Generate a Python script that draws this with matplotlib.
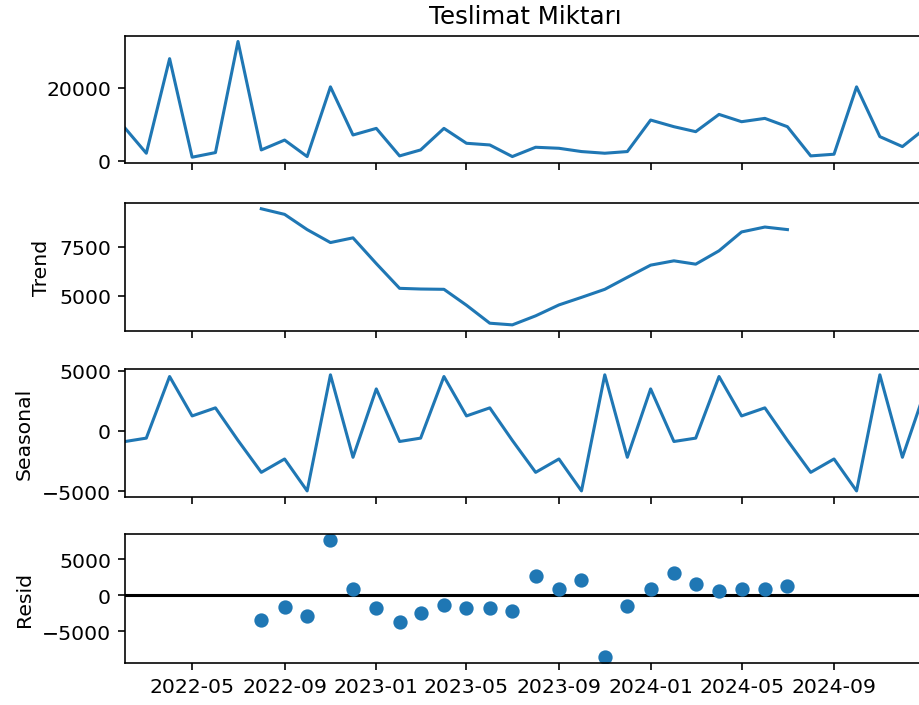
import numpy as np
import pandas as pd
import matplotlib
matplotlib.use("Agg")
import matplotlib.pyplot as plt
import matplotlib.dates as mdates

nan = np.nan

dates = pd.date_range("2022-02-01", periods=36, freq="MS")

observed = [8900, 2090, 28000, 1000, 2270, 32700, 3000, 5700, 1180, 20270, 7090, 8900,
            1360, 3000, 8900, 4820, 4360, 1180, 3730, 3450, 2550, 2090, 2550, 11180,
            9360, 8000, 12730, 10730, 11640, 9360, 1360, 1820, 20270, 6640, 3910, 9000]

trend = [nan, nan, nan, nan, nan, nan,
         9440, 9155, 8380, 7720, 7960, 6650, 5390, 5355, 5340, 4530, 3615, 3530,
         3990, 4545, 4930, 5340, 5950, 6570, 6790, 6620, 7300, 8260, 8510, 8380,
         nan, nan, nan, nan, nan, nan]

seasonal = [-880, -600, 4510, 1240, 1910, -790, -3440, -2330, -4980, 4650, -2190, 3480,
            -880, -600, 4510, 1240, 1910, -790, -3440, -2330, -4980, 4650, -2190, 3480,
            -880, -600, 4510, 1240, 1910, -790, -3440, -2330, -4980, 4650, -2190, 3480]

resid = [nan, nan, nan, nan, nan, nan,
         -3490, -1630, -2880, 7670, 790, -1770, -3720, -2460, -1300, -1770, -1770, -2190,
         2700, 790, 2090, -8600, -1530, 790, 3020, 1490, 560, 790, 790, 1260,
         nan, nan, nan, nan, nan, nan]

xticks = pd.date_range("2022-05-01", "2024-09-01", freq="4MS")

fig = plt.figure(figsize=(919 / 147, 706 / 147), dpi=147)
left, width = 0.1363, 0.871
bottoms = [0.7677, 0.5302, 0.2950, 0.0595]
heights = [0.1803, 0.1809, 0.1809, 0.1827]
axs = []
for i in range(4):
    ax = fig.add_axes([left, bottoms[i], width, heights[i]], sharex=axs[0] if axs else None)
    axs.append(ax)

xlim = (dates[0], dates[-1])

axs[0].plot(dates, observed)
axs[0].set_title("Teslimat Miktarı")
axs[0].set_yticks([0, 20000])

axs[1].plot(dates, trend)
axs[1].set_ylabel("Trend")
axs[1].set_yticks([5000, 7500])

axs[2].plot(dates, seasonal)
axs[2].set_ylabel("Seasonal")
axs[2].set_yticks([-5000, 0, 5000])

axs[3].plot(dates, resid, marker="o", linestyle="none")
axs[3].plot(xlim, (0, 0), color="#000000", zorder=-3)
axs[3].set_ylabel("Resid")
axs[3].set_yticks([-5000, 0, 5000])

for ax in axs:
    ax.set_xlim(xlim)
    ax.set_xticks(xticks)
    ax.xaxis.set_major_formatter(mdates.DateFormatter("%Y-%m"))
for ax in axs[:3]:
    ax.tick_params(labelbottom=False)

fig.savefig("out.png", dpi=147)
